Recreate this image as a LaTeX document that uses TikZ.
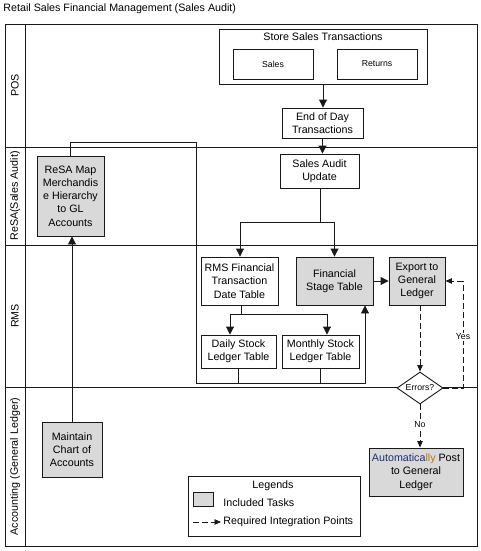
\documentclass[tikz,border=0pt]{standalone}
\usepackage{fontspec}
\setmainfont{Liberation Sans}
\usetikzlibrary{arrows.meta,shapes.geometric}
\definecolor{taskgray}{RGB}{217,217,217}
\definecolor{autoblue}{RGB}{30,45,125}
\definecolor{autoorange}{RGB}{185,115,25}
\definecolor{linecol}{RGB}{25,25,25}
\begin{document}
\begin{tikzpicture}[x=1pt,y=-1pt,
  line width=0.9pt, draw=linecol,
  arr/.style={draw=linecol,-{Triangle[length=8pt,width=8pt]}},
  dasharr/.style={draw=linecol,dash pattern=on 6pt off 3pt,-{Triangle[length=6.5pt,width=5.5pt]}},
  dline/.style={draw=linecol,dash pattern=on 6pt off 3pt},
  box/.style={draw=linecol, rectangle, fill=white, inner sep=1pt, align=center, font=\fontsize{10.7}{13.3}\selectfont},
  task/.style={box, fill=taskgray},
  smallbox/.style={box, font=\fontsize{8.7}{10}\selectfont},
  smalltxt/.style={font=\fontsize{8.7}{10}\selectfont, inner sep=1pt},
  lanetxt/.style={rotate=90, font=\fontsize{10.7}{13}\selectfont},
  plain/.style={font=\fontsize{10.7}{13}\selectfont, inner sep=0pt},
]
\useasboundingbox (0,0) rectangle (481,551);

% title
\node[plain, anchor=west] (title) at (3,9) {Retail Sales Financial Management (Sales Audit)};

% swimlanes
\draw[linecol] (5,24) rectangle (477,546);
\draw[linecol] (25,24) -- (25,546);
\draw[linecol] (5,147) -- (477,147);
\draw[linecol] (5,245) -- (477,245);
\draw[linecol] (5,387) -- (477,387);
\node[lanetxt] (lpos) at (15,85.5) {POS};
\node[lanetxt] (lresa) at (15,196) {ReSA(Sales Audit)};
\node[lanetxt] (lrms) at (15,316) {RMS};
\node[lanetxt] (lacc) at (15,466.5) {Accounting (General Ledger)};

% coordinates for connectors
\coordinate (split1) at (320,222);
\coordinate (split2) at (241,314);
\coordinate (loopTop) at (196,142);
\coordinate (loopBot) at (196,383);
\coordinate (loopEnd) at (365,383);
\coordinate (yesc) at (463,388);
\coordinate (legA) at (193,522);
\coordinate (legB) at (221,522);

% nodes
\node[box, minimum width=208pt, minimum height=55pt,
  label={[anchor=north, font=\fontsize{10.7}{13}\selectfont, inner sep=4pt]north:Store Sales Transactions}] (store) at (323,56.5) {};
\node[smallbox, minimum width=80pt, minimum height=30pt] (sales) at (273,64) {Sales};
\node[smallbox, minimum width=80pt, minimum height=30pt] (returns) at (377,64) {Returns};
\node[box, minimum width=81pt, minimum height=30pt] (eod) at (322.5,123) {End of Day\\Transactions};
\node[box, minimum width=79pt, minimum height=34pt] (sau) at (319.5,171) {Sales Audit\\Update};
\node[task, minimum width=67pt, minimum height=80pt] (resa) at (70.5,196) {ReSA Map\\Merchandis\\e Hierarchy\\to GL\\Accounts};
\node[box, minimum width=77pt, minimum height=48pt] (rmsft) at (239.5,281) {RMS Financial\\Transaction\\Date Table};
\node[task, minimum width=77pt, minimum height=48pt] (fst) at (334.5,281) {Financial\\Stage Table};
\node[task, minimum width=56pt, minimum height=48pt] (exp) at (417,281) {Export to\\General\\Ledger};
\node[box, minimum width=75pt, minimum height=33pt] (daily) at (238.5,351.5) {Daily Stock\\Ledger Table};
\node[box, minimum width=77pt, minimum height=33pt] (monthly) at (320.5,351.5) {Monthly Stock\\Ledger Table};
\node[diamond, draw=linecol, fill=white, inner sep=0pt, aspect=1.45, minimum width=46pt, minimum height=32pt, font=\fontsize{8.7}{10}\selectfont] (err) at (420,388) {Errors?};
\node[task, minimum width=94pt, minimum height=48pt] (auto) at (416,472) {\textcolor{autoblue}{Automatica}\textcolor{autoorange}{lly} Post\\to General\\Ledger};
\node[task, minimum width=60pt, minimum height=55pt] (mca) at (72,449.5) {Maintain\\Chart of\\Accounts};

% connectors
\draw[arr] (store.south) -- (store.south |- eod.north);
\draw[arr] (eod.south) -- (eod.south |- sau.north);
\draw[linecol] (split1 |- sau.south) -- (split1);
\draw[arr] (split1) -| ([xshift=0.5pt]rmsft.north);
\draw[arr] (split1) -| (fst.north);
\draw[linecol] (split2 |- rmsft.south) -- (split2);
\draw[arr] (split2) -| ([xshift=-8.5pt]daily.north);
\draw[arr] (split2) -| ([xshift=6.5pt]monthly.north);
\draw[linecol] (daily.south) -- (daily.south |- loopBot);
\draw[linecol] (monthly.south) -- (monthly.south |- loopBot);
\draw[arr] (resa.north) |- (loopTop) -- (loopBot) -- (loopEnd) -- (loopEnd |- fst.south);
\draw[arr] (mca.north) -- (mca.north |- resa.south);
\draw[arr] (fst.east) -- (exp.east -| exp.west);
\draw[dasharr] (err.north |- exp.south) -- (err.north);
\draw[dasharr] (err.south) -- node[smalltxt, fill=white, pos=0.47] (nolbl) {No} (err.south |- auto.north);
\draw[dline] (err.east) -- (yesc) -- (yesc |- exp.east);
\draw[dasharr] (yesc |- exp.east) -- (exp.east);
\node[smalltxt, fill=white] (yeslbl) at (463,337) {Yes};

% legend
\node[draw=linecol, fill=white, minimum width=172pt, minimum height=60pt, inner sep=0pt] (legend) at (274,506) {};
\node[plain] (legtitle) at (273,486) {Legends};
\node[draw=linecol, fill=taskgray, minimum width=20pt, minimum height=14pt, inner sep=0pt] (legbox) at (203,499) {};
\node[plain, anchor=west] (legtask) at (223,503) {Included Tasks};
\draw[dasharr] (legA) -- (legB);
\node[plain, anchor=west] (legint) at (223,522) {Required Integration Points};
\end{tikzpicture}
\end{document}
